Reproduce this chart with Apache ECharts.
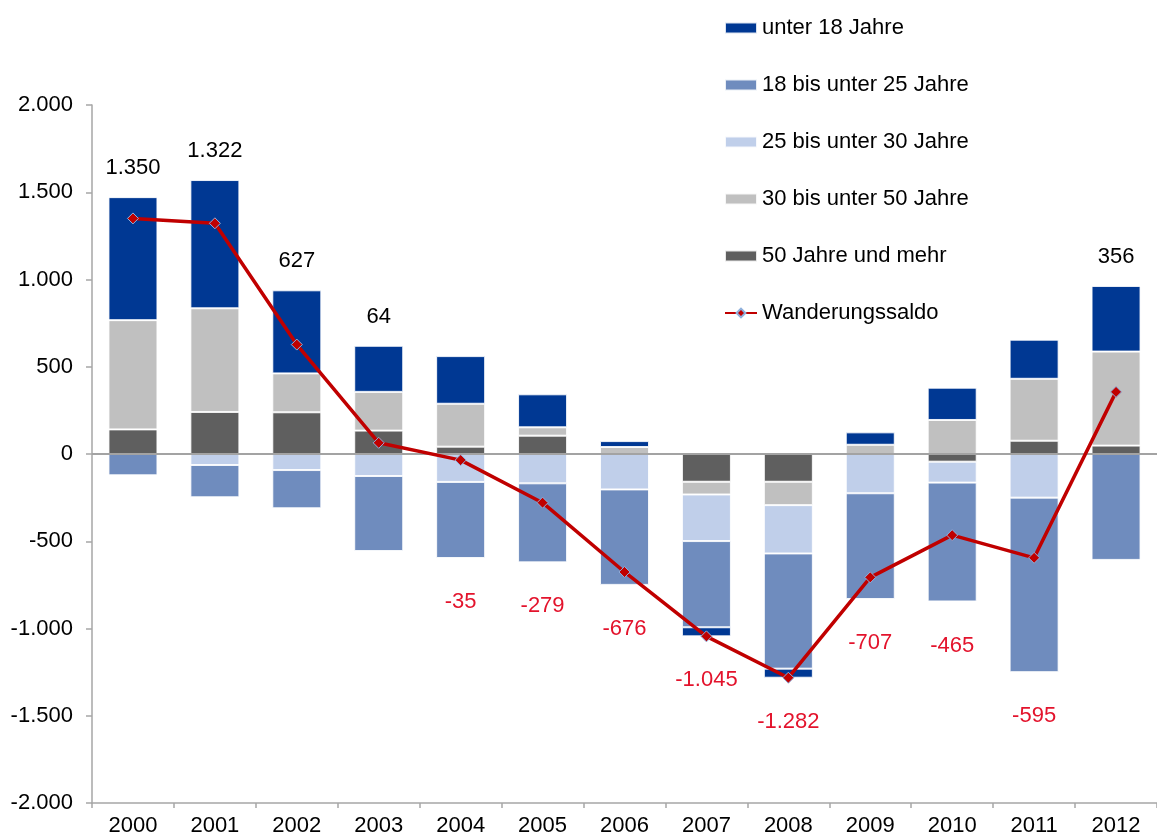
<!DOCTYPE html>
<html>
<head>
<meta charset="utf-8">
<script src="https://cdn.jsdelivr.net/npm/echarts@6/dist/echarts.min.js"></script>
<style>
  html, body { margin: 0; padding: 0; background: #fff; }
  #chart { width: 1157px; height: 837px; }
</style>
</head>
<body>
<div id="chart"></div>
<script>
// Wanderungssaldo nach Altersgruppen
const years = ['2000', '2001', '2002', '2003', '2004', '2005', '2006', '2007', '2008', '2009', '2010', '2011', '2012']
const unter18 = [705, 735, 476, 264, 273, 189, 34, -52, -52, 71, 185, 224, 376]
const von18bis25 = [-122, -185, -219, -430, -436, -453, -547, -494, -660, -606, -681, -1000, -607]
const von25bis30 = [0, -63, -92, -126, -160, -168, -203, -267, -277, -225, -120, -250, 0]
const von30bis50 = [626, 594, 223, 222, 246, 48, 40, -73, -134, 53, 195, 355, 539]
const ab50 = [141, 241, 239, 134, 42, 105, 0, -159, -159, 0, -44, 76, 48]
const saldo = [1350, 1322, 627, 64, -35, -279, -676, -1045, -1282, -707, -465, -595, 356]
const yTicks = { min: -2000, max: 2000, step: 500 }

const FONT = 'Liberation Sans'
const FS = 22

function fmt(v) {
  const s = Math.abs(v).toString().replace(/\B(?=(\d{3})+(?!\d))/g, '.')
  return (v < 0 ? '-' : '') + s
}

// stacking order from the zero line outwards
const groups = [
  { name: '50 Jahre und mehr', data: ab50, color: '#5f5f5f' },
  { name: '30 bis unter 50 Jahre', data: von30bis50, color: '#c0c0c0' },
  { name: '25 bis unter 30 Jahre', data: von25bis30, color: '#c0cfea' },
  { name: '18 bis unter 25 Jahre', data: von18bis25, color: '#6f8cbe' },
  { name: 'unter 18 Jahre', data: unter18, color: '#003893' }
]

// the saldo label sits on the outermost segment on the saldo's side
function outermost(i) {
  const pos = saldo[i] >= 0
  let idx = -1
  groups.forEach((g, k) => {
    const v = g.data[i]
    if (pos ? v > 0 : v < 0) idx = k
  })
  return idx
}

const labelOwner = years.map((y, i) => outermost(i))

const barSeries = groups.map((g, k) => ({
  name: g.name,
  type: 'bar',
  stack: 'alter',
  barWidth: 49,
  itemStyle: {
    color: g.color,
    borderColor: 'rgba(255,255,255,0.85)',
    borderWidth: 1
  },
  data: g.data.map((v, i) => {
    if (labelOwner[i] !== k) return v
    const pos = saldo[i] >= 0
    return {
      value: v,
      label: {
        show: true,
        position: pos ? 'top' : 'bottom',
        distance: pos ? 18 : 33,
        formatter: fmt(saldo[i]),
        color: pos ? '#000000' : '#e3132c',
        fontSize: FS,
        fontFamily: FONT
      }
    }
  })
}))

// zero line across the plot
barSeries[0].markLine = {
  silent: true,
  symbol: ['none', 'none'],
  label: { show: false },
  lineStyle: { color: '#a3a3a3', width: 2, type: 'solid' },
  data: [{ yAxis: 0 }]
}

const chart = echarts.init(document.getElementById('chart'))

chart.setOption({
  animation: false,
  backgroundColor: '#ffffff',
  textStyle: { fontFamily: FONT },
  grid: {
    left: 92,
    top: 105,
    width: 1076,
    height: 698
  },
  legend: {
    orient: 'vertical',
    left: 719,
    top: 12,
    itemWidth: 32,
    itemHeight: 11,
    itemGap: 35,
    selectedMode: false,
    textStyle: { fontSize: FS, color: '#000000', fontFamily: FONT },
    data: [
      { name: 'unter 18 Jahre', icon: 'rect' },
      { name: '18 bis unter 25 Jahre', icon: 'rect' },
      { name: '25 bis unter 30 Jahre', icon: 'rect' },
      { name: '30 bis unter 50 Jahre', icon: 'rect' },
      { name: '50 Jahre und mehr', icon: 'rect' },
      { name: 'Wanderungssaldo' }
    ]
  },
  xAxis: {
    type: 'category',
    data: years,
    position: 'bottom',
    axisLine: { onZero: false, lineStyle: { color: '#a6a6a6', width: 1.5 } },
    axisTick: { show: true, length: 5, lineStyle: { color: '#a6a6a6', width: 1.5 } },
    axisLabel: { color: '#000000', fontSize: FS, fontFamily: FONT, margin: 12 },
    splitLine: { show: false }
  },
  yAxis: {
    type: 'value',
    min: yTicks.min,
    max: yTicks.max,
    interval: yTicks.step,
    axisLine: { show: true, lineStyle: { color: '#a6a6a6', width: 1.5 } },
    axisTick: { show: true, length: 6, lineStyle: { color: '#a6a6a6', width: 1.5 } },
    axisLabel: { color: '#000000', fontSize: FS, fontFamily: FONT, margin: 19, formatter: fmt },
    splitLine: { show: false }
  },
  series: [
    ...barSeries,
    {
      name: 'Wanderungssaldo',
      type: 'line',
      z: 6,
      data: saldo,
      symbol: 'diamond',
      symbolSize: 11,
      showAllSymbol: true,
      lineStyle: { color: '#c00000', width: 3.5 },
      itemStyle: { color: '#c00000', borderColor: '#8fb0dc', borderWidth: 1 }
    }
  ]
})
</script>
</body>
</html>
